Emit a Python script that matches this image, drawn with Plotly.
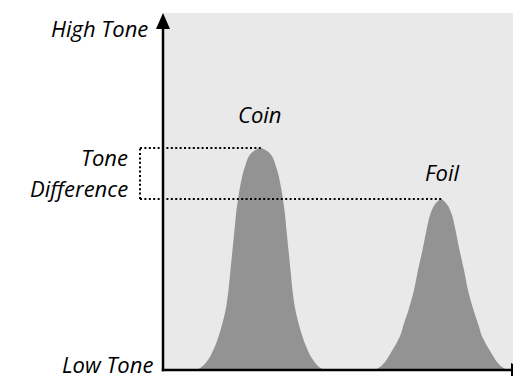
import plotly.graph_objects as go

# Coin peak outline (x: position along sweep, y: tone height)
coin_x = [33.5, 38.5, 43.5, 48, 52.5, 56, 59, 61.5, 63.5, 65.5, 67.5, 69.5, 71.5, 73.5,
          76.5, 79.5, 82.5, 85.5, 89.5, 97.5,
          105.5, 109.5, 112.5, 115.5, 118.5, 121.5, 123.5, 125.5, 127.5, 129.5,
          131.5, 133.5, 136, 139, 142.5, 147, 151.5, 156, 161.5]
coin_y = [0, 3, 8, 15, 25, 35, 45, 55, 65, 80, 100, 120, 140, 160,
          180, 195, 205, 213, 218, 222,
          218, 213, 205, 195, 180, 160, 140, 120, 100, 80,
          65, 55, 45, 35, 25, 15, 8, 3, 0]

# Foil peak outline
foil_x = [212, 217, 222, 226.5, 232.5, 237.5, 240.5, 245.5, 251, 255, 259.5, 263.5, 267, 271.5, 278,
          284.5, 289, 292.5, 296.5, 301, 305, 310.5, 315.5, 318.5, 323.5, 329.5, 334, 339, 344]
foil_y = [0, 3, 8, 15, 25, 35, 45, 60, 80, 100, 120, 140, 155, 165, 171,
          165, 155, 140, 120, 100, 80, 60, 45, 35, 25, 15, 8, 3, 0]

coin_peak = (100, 222)
foil_peak = (279, 171)
bracket_x = -23
axis_top = 357
axis_right = 350

label_font = dict(family="Open Sans", size=22, color="black", style="italic")
fill_col = "#939393"
bg_col = "#e9e9e9"

fig = go.Figure()
for xs, ys in [(coin_x, coin_y), (foil_x, foil_y)]:
    fig.add_trace(go.Scatter(x=xs, y=ys, mode="lines", line=dict(width=0, shape="spline", smoothing=0.8),
                             fill="tozeroy", fillcolor=fill_col, hoverinfo="skip", showlegend=False))

dot = dict(color="black", width=2, dash="2px,2.4px")
shapes = [
    dict(type="rect", x0=0, x1=axis_right, y0=0, y1=axis_top, fillcolor=bg_col, line=dict(width=0), layer="below"),
    dict(type="line", x0=bracket_x, x1=coin_peak[0], y0=coin_peak[1], y1=coin_peak[1], line=dot),
    dict(type="line", x0=bracket_x, x1=foil_peak[0], y0=foil_peak[1], y1=foil_peak[1], line=dot),
    dict(type="line", x0=bracket_x, x1=bracket_x, y0=foil_peak[1], y1=coin_peak[1], line=dot),
    # axes
    dict(type="line", x0=0, x1=0, y0=-1.2, y1=axis_top - 14, line=dict(color="black", width=2.5)),
    dict(type="line", x0=-1.2, x1=axis_right, y0=0, y1=0, line=dict(color="black", width=2.5)),
    dict(type="path", path=f"M -7,{axis_top-16} L 0,{axis_top} L 7,{axis_top-16} Z",
         fillcolor="black", line=dict(width=0)),
    dict(type="path", path=f"M {axis_right-2},7 L {axis_right+14},0 L {axis_right-2},-7 Z",
         fillcolor="black", line=dict(width=0)),
]

annotations = [
    dict(x=-13, y=342, text="High Tone", xanchor="right", yanchor="middle", showarrow=False, font=label_font),
    dict(x=-8, y=6, text="Low Tone", xanchor="right", yanchor="middle", showarrow=False, font=label_font),
    dict(x=-33, y=213, text="Tone", xanchor="right", yanchor="middle", showarrow=False, font=label_font),
    dict(x=-33, y=182, text="Difference", xanchor="right", yanchor="middle", showarrow=False, font=label_font),
    dict(x=97, y=256, text="Coin", xanchor="center", yanchor="middle", showarrow=False, font=label_font),
    dict(x=279, y=198, text="Foil", xanchor="center", yanchor="middle", showarrow=False, font=label_font),
]

fig.update_layout(
    width=513, height=376,
    margin=dict(l=0, r=0, t=0, b=0),
    paper_bgcolor="white", plot_bgcolor="white",
    xaxis=dict(range=[-163, 350], visible=False, fixedrange=True),
    yaxis=dict(range=[-6, 370], visible=False, fixedrange=True),
    shapes=shapes, annotations=annotations,
)
fig.write_html("out.html", config=dict(displayModeBar=False),
               post_script="document.body.style.margin='0';document.body.style.overflow='hidden';")
